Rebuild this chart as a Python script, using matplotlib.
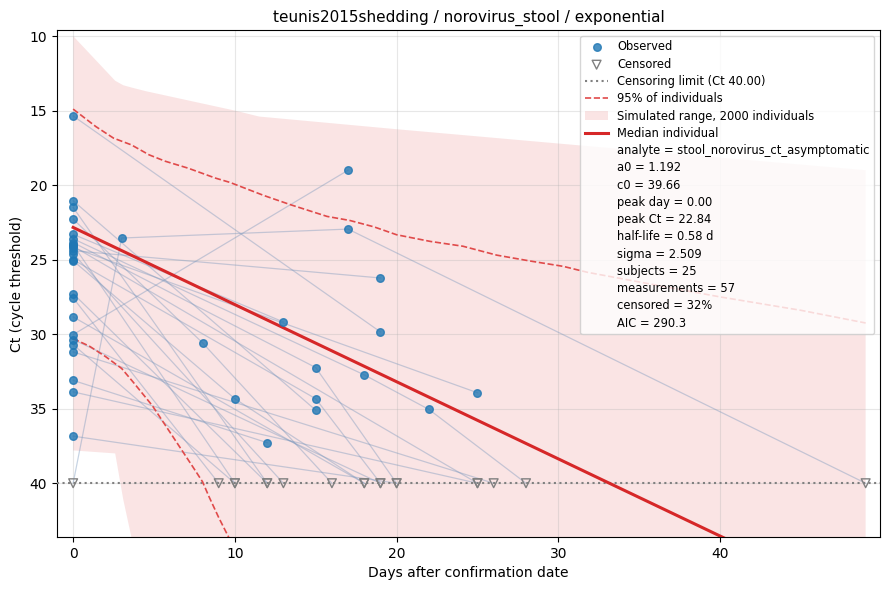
import numpy as np
import matplotlib
matplotlib.use("Agg")
import matplotlib.pyplot as plt
from matplotlib.lines import Line2D

# per-subject trajectories: (day, ct, censored)
subjects = [
    [(0, 15.36, 0), (19, 29.85, 0)],
    [(0, 30.03, 0), (17, 19.0, 0)],
    [(0, 40.0, 1), (3, 23.55, 0), (17, 22.95, 0), (49, 40.0, 1)],
    [(0, 24.4, 0), (19, 26.23, 0)],
    [(0, 24.2, 0), (25, 33.93, 0)],
    [(0, 23.3, 0), (13, 29.18, 0)],
    [(0, 21.05, 0), (15, 35.1, 0)],
    [(0, 21.5, 0), (12, 40.0, 1)],
    [(0, 22.28, 0), (8, 30.58, 0), (16, 40.0, 1)],
    [(0, 23.6, 0), (18, 32.73, 0), (22, 35.05, 0), (28, 40.0, 1)],
    [(0, 23.85, 0), (15, 32.24, 0), (20, 40.0, 1)],
    [(0, 24.0, 0), (10, 40.0, 1)],
    [(0, 24.1, 0), (25, 40.0, 1)],
    [(0, 24.6, 0), (13, 40.0, 1)],
    [(0, 25.0, 0), (15, 34.33, 0), (19, 40.0, 1)],
    [(0, 25.07, 0), (10, 34.33, 0), (18, 40.0, 1)],
    [(0, 27.28, 0), (12, 40.0, 1)],
    [(0, 27.57, 0), (9, 40.0, 1)],
    [(0, 28.84, 0), (18, 40.0, 1)],
    [(0, 30.36, 0), (19, 40.0, 1)],
    [(0, 30.7, 0), (10, 40.0, 1)],
    [(0, 31.19, 0), (26, 40.0, 1)],
    [(0, 33.1, 0), (12, 37.28, 0)],
    [(0, 33.87, 0), (25, 40.0, 1)],
    [(0, 36.84, 0), (20, 40.0, 1)],
]

# simulated range (2000 individuals)
range_days = [0, 2.6, 3.1, 3.6, 4.5, 10, 11.5, 20, 32, 49]
range_low_ct = [10.0, 13.0, 13.3, 13.45, 13.7, 15.0, 15.4, 16.25, 17.4, 19.0]
range_high_ct = [37.8, 38.0, 41.1, 43.6, 48, 60, 60, 60, 60, 60]

# 95% of individuals
upper_days = [0, 1.4, 2.5, 3.6, 4.7, 5.7, 7.1, 8.8, 9.7, 11.8, 13.4, 15.7, 17.1,
              18.6, 20, 22.1, 24.1, 26.2, 28.3, 30.3, 31.8, 36, 40, 45, 49]
upper_ct = [14.9, 16.07, 16.85, 17.3, 17.97, 18.4, 18.86, 19.53, 19.82, 20.7, 21.3,
            22.1, 22.37, 22.8, 23.33, 23.78, 24.1, 24.7, 25.1, 25.45, 25.85, 26.7,
            27.5, 28.4, 29.25]
lower_days = [0, 1.0, 2.0, 3.0, 3.7, 4.9, 6.0, 7.4, 8.0, 8.4, 9.0, 9.7]
lower_ct = [30.3, 30.8, 31.5, 32.3, 33.2, 34.8, 36.6, 38.9, 39.9, 40.9, 42.3, 43.8]

# median individual
median_days = [0, 49]
median_ct = [22.84, 48.2]

ct_limit = 40.0
stats = [
    "analyte = stool_norovirus_ct_asymptomatic",
    "a0 = 1.192",
    "c0 = 39.66",
    "peak day = 0.00",
    "peak Ct = 22.84",
    "half-life = 0.58 d",
    "sigma = 2.509",
    "subjects = 25",
    "measurements = 57",
    "censored = 32%",
    "AIC = 290.3",
]

fig, ax = plt.subplots(figsize=(8.9, 5.9), dpi=100)
fig.subplots_adjust(left=0.064, right=0.989, top=0.949, bottom=0.090)

ax.fill_between(range_days, range_low_ct, range_high_ct, color="#d62728",
                alpha=0.12, linewidth=0, label="Simulated range, 2000 individuals")

for subj in subjects:
    d = [p[0] for p in subj]
    c = [p[1] for p in subj]
    ax.plot(d, c, color="#7594bb", alpha=0.4, linewidth=0.9, zorder=2)

obs_d = [p[0] for s in subjects for p in s if not p[2]]
obs_c = [p[1] for s in subjects for p in s if not p[2]]
cen_d = [p[0] for s in subjects for p in s if p[2]]
cen_c = [p[1] for s in subjects for p in s if p[2]]

ax.axhline(ct_limit, color="gray", linestyle=":", linewidth=1.5,
           label="Censoring limit (Ct 40.00)", zorder=3)
ax.plot(upper_days, upper_ct, color="#e04a4a", linestyle="--", linewidth=1.2,
        label="95% of individuals", zorder=3)
ax.plot(lower_days, lower_ct, color="#e04a4a", linestyle="--", linewidth=1.2, zorder=3)
ax.plot(median_days, median_ct, color="#d62728", linewidth=2.2,
        label="Median individual", zorder=4)

ax.scatter(obs_d, obs_c, s=30, color="#1f77b4", alpha=0.8, label="Observed", zorder=5)
ax.scatter(cen_d, cen_c, s=40, marker="v", facecolors="none", edgecolors="gray",
           label="Censored", zorder=5)

ax.set_xlim(-1, 49.9)
ax.set_ylim(43.6, 9.6)
ax.set_xlabel("Days after confirmation date")
ax.set_ylabel("Ct (cycle threshold)")
ax.set_title("teunis2015shedding / norovirus_stool / exponential", fontsize=11)
ax.grid(True, alpha=0.3)

handles, labels = ax.get_legend_handles_labels()
order = ["Observed", "Censored", "Censoring limit (Ct 40.00)", "95% of individuals",
         "Simulated range, 2000 individuals", "Median individual"]
h = [handles[labels.index(k)] for k in order]
for s in stats:
    h.append(Line2D([], [], linestyle="none", marker=""))
ax.legend(h, order + stats, loc="upper right", fontsize=8.3, labelspacing=0.37)

fig.savefig("out.png", dpi=100)
